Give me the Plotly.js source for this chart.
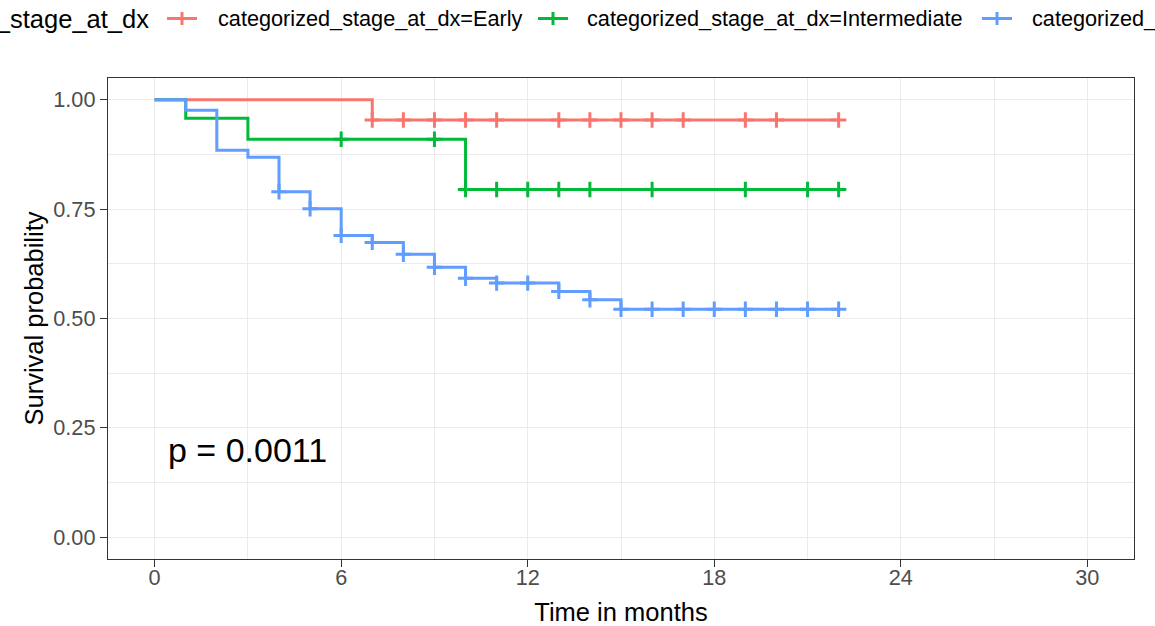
<!DOCTYPE html>
<html>
<head>
<meta charset="utf-8">
<script src="https://cdn.plot.ly/plotly-3.0.1.min.js"></script>
<style>html,body{margin:0;padding:0;background:#fff}#chart{width:1155px;height:626px}</style>
</head>
<body>
<div id="chart"></div>
<script>
// ---- data ----
const groupLabels = ['categorized_stage_at_dx=Early', 'categorized_stage_at_dx=Intermediate', 'categorized_stage_at_dx=Late'];
const legendTitle = 'categorized_stage_at_dx';
const groupColors = ['#F8766D', '#00BA38', '#619CFF'];

const earlyTime = [0, 7, 22];
const earlySurv = [1.0, 0.954, 0.954];
const earlyCensor = [7, 8, 9, 10, 11, 13, 14, 15, 16, 17, 19, 20, 22];

const interTime = [0, 1, 3, 10, 22];
const interSurv = [1.0, 0.958, 0.910, 0.795, 0.795];
const interCensor = [6, 9, 10, 11, 12, 13, 14, 16, 19, 21, 22];

const lateTime = [0, 1, 2, 3, 4, 5, 6, 7, 8, 9, 10, 11, 13, 14, 15, 22];
const lateSurv = [1.0, 0.976, 0.885, 0.869, 0.790, 0.751, 0.690, 0.674, 0.647, 0.617, 0.592, 0.581, 0.562, 0.543, 0.521, 0.521];
const lateCensor = [4, 5, 6, 7, 8, 9, 10, 11, 12, 13, 14, 15, 16, 17, 18, 19, 20, 21, 22];

const pValueText = 'p = 0.0011';
const xTitle = 'Time in months';
const yTitle = 'Survival probability';
const xTicks = [0, 6, 12, 18, 24, 30];
const yTicks = [0, 0.25, 0.5, 0.75, 1.0];

// ---- helpers ----
function stepValue(times, surv, t) {
  let v = surv[0];
  for (let i = 0; i < times.length; i++) { if (times[i] <= t) v = surv[i]; }
  return v;
}

const groups = [
  {t: earlyTime, s: earlySurv, c: earlyCensor},
  {t: interTime, s: interSurv, c: interCensor},
  {t: lateTime, s: lateSurv, c: lateCensor}
];

const W = 1155, H = 626, ML = 108, MR = 21, MT = 78, MB = 67;
const PW = W - ML - MR, PH = H - MT - MB;
const pxX = x => (x - ML) / PW;
const pxY = y => (H - MB - y) / PH;

const FONT = 'Liberation Sans, Arial, sans-serif';

const traces = [];
groups.forEach((g, i) => {
  traces.push({
    type: 'scatter', mode: 'lines', x: g.t, y: g.s, name: groupLabels[i],
    line: {shape: 'hv', color: groupColors[i], width: 3}, showlegend: false, hoverinfo: 'skip'
  });
});
groups.forEach((g, i) => {
  traces.push({
    type: 'scatter', mode: 'markers', x: g.c, y: g.c.map(t => stepValue(g.t, g.s, t)), name: groupLabels[i],
    marker: {symbol: 'cross-thin', size: 11, color: groupColors[i], line: {color: groupColors[i], width: 3}},
    showlegend: false, hoverinfo: 'skip'
  });
});

// ---- manual legend (top, clipped like the reference) ----
const annotations = [];
const shapes = [];
const legendY = 19;
annotations.push({
  xref: 'paper', yref: 'paper', x: pxX(151), y: pxY(legendY), xanchor: 'right', yanchor: 'middle',
  text: legendTitle, showarrow: false, font: {family: FONT, size: 25.5, color: '#000000'}
});
const symStarts = [167, 538, 982];
const textStarts = [216, 585, 1030];
groupLabels.forEach((lab, i) => {
  const s = symStarts[i];
  shapes.push({type: 'line', xref: 'paper', yref: 'paper', x0: pxX(s), x1: pxX(s + 30), y0: pxY(18.5), y1: pxY(18.5),
    line: {color: groupColors[i], width: 3}});
  shapes.push({type: 'line', xref: 'paper', yref: 'paper', x0: pxX(s + 15), x1: pxX(s + 15), y0: pxY(12), y1: pxY(25),
    line: {color: groupColors[i], width: 3}});
  annotations.push({
    xref: 'paper', yref: 'paper', x: pxX(textStarts[i]), y: pxY(legendY), xanchor: 'left', yanchor: 'middle',
    text: lab, showarrow: false, font: {family: FONT, size: 21.7, color: '#000000'}
  });
});

annotations.push({
  xref: 'x', yref: 'y', x: 0.36, y: 0.2, xanchor: 'left', yanchor: 'middle',
  text: pValueText, showarrow: false, font: {family: FONT, size: 34, color: '#000000'}
});

const axisCommon = {
  showline: true, mirror: true, linecolor: '#333333', linewidth: 1.3,
  ticks: 'outside', ticklen: 7, tickwidth: 1.3, tickcolor: '#333333',
  showgrid: true, gridcolor: '#EBEBEB', gridwidth: 1.3, zeroline: false,
  tickfont: {family: FONT, size: 21.7, color: '#4D4D4D'}
};

const layout = {
  width: W, height: H,
  margin: {l: ML, r: MR, t: MT, b: MB, autoexpand: false},
  paper_bgcolor: '#FFFFFF', plot_bgcolor: '#FFFFFF',
  font: {family: FONT},
  showlegend: false,
  xaxis: Object.assign({}, axisCommon, {
    range: [-1.5, 31.5], tickmode: 'array', tickvals: xTicks, ticktext: xTicks.map(String),
    minor: {dtick: 3, tick0: 0, showgrid: true, gridcolor: '#EBEBEB', gridwidth: 0.7},
    ticklabelstandoff: -8,
    title: {text: xTitle, font: {family: FONT, size: 25.5, color: '#000000'}, standoff: 16}
  }),
  yaxis: Object.assign({}, axisCommon, {
    range: [-0.05, 1.05], tickmode: 'array', tickvals: yTicks, ticktext: yTicks.map(v => v.toFixed(2)),
    minor: {dtick: 0.125, tick0: 0, showgrid: true, gridcolor: '#EBEBEB', gridwidth: 0.7},
    ticklabelstandoff: 0,
    title: {text: yTitle, font: {family: FONT, size: 25.5, color: '#000000'}, standoff: 2}
  }),
  annotations: annotations,
  shapes: shapes
};

Plotly.newPlot('chart', traces, layout, {displayModeBar: false, responsive: false});
</script>
</body>
</html>
